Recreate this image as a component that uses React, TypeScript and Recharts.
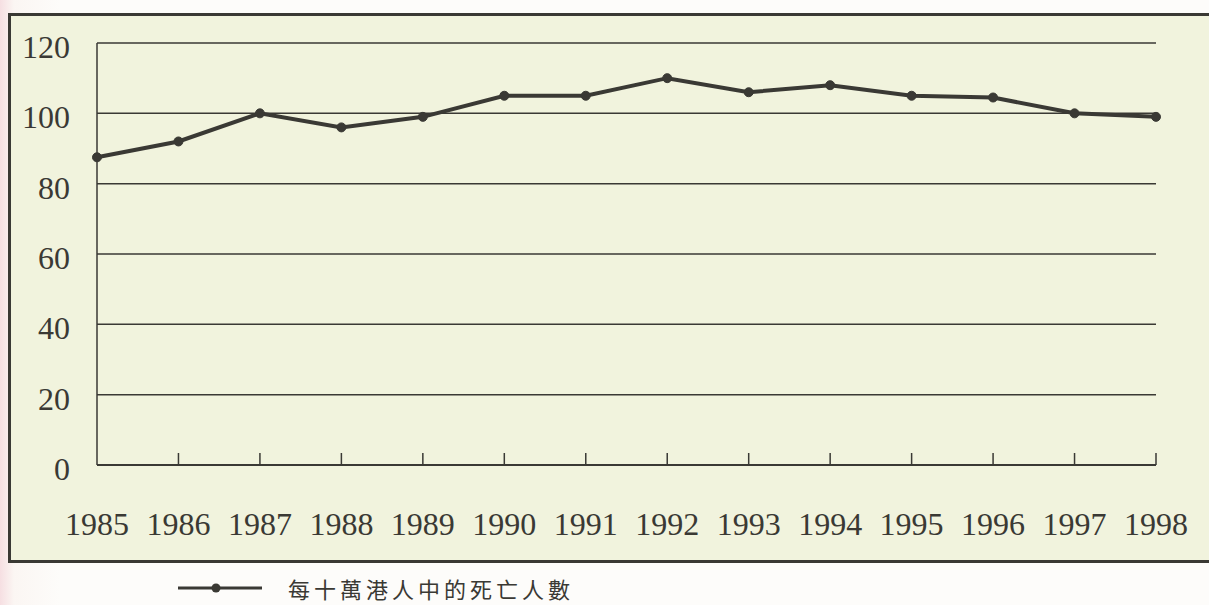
import { LineChart, Line, XAxis, YAxis, CartesianGrid, Legend } from 'recharts';

const years = ['1985', '1986', '1987', '1988', '1989', '1990', '1991', '1992', '1993', '1994', '1995', '1996', '1997', '1998'];
const deaths = [87.5, 92, 100, 96, 99, 105, 105, 110, 106, 108, 105, 104.5, 100, 99];
const yTicks = [0, 20, 40, 60, 80, 100, 120];
const seriesName = '每十萬港人中的死亡人數';

const data = years.map((year, i) => ({ year, value: deaths[i] }));

const INK = '#3a3934';
const SERIF = '"Liberation Serif", "DejaVu Serif", serif';

function XTick(props: any) {
  const { x, y, payload, index } = props;
  return (
    <g>
      {index > 0 && <line x1={x} y1={y} x2={x} y2={y - 12} stroke={INK} strokeWidth={1.5} />}
      <text x={x} y={y + 70} textAnchor="middle" fontFamily={SERIF} fontSize={32} fill={INK}>
        {payload.value}
      </text>
    </g>
  );
}

function YTick(props: any) {
  const { x, y, payload } = props;
  return (
    <text x={x} y={y + 15} textAnchor="end" fontFamily={SERIF} fontSize={32} fill={INK}>
      {payload.value}
    </text>
  );
}

function LegendContent() {
  return (
    <div style={{ display: 'flex', alignItems: 'center', height: 28 }}>
      <svg width={90} height={16}>
        <line x1={2} y1={8} x2={86} y2={8} stroke={INK} strokeWidth={3} />
        <circle cx={40} cy={8} r={4.5} fill={INK} />
      </svg>
      <span
        style={{
          marginLeft: 22,
          fontFamily: '"Noto Sans CJK TC", sans-serif',
          fontSize: 22,
          lineHeight: '28px',
          letterSpacing: 4,
          color: INK,
        }}
      >
        {seriesName}
      </span>
    </div>
  );
}

export default function App() {
  return (
    <div
      style={{
        position: 'absolute',
        left: 0,
        top: 0,
        width: 1209,
        height: 605,
        overflow: 'hidden',
        background: 'linear-gradient(90deg, #f6dfe2 0px, #fbf6f3 14px, #fdfcfa 60px)',
      }}
    >
      <div
        style={{
          position: 'absolute',
          left: 8,
          top: 13,
          width: 1220,
          height: 544,
          background: '#f1f3dd',
          borderTop: `3px solid ${INK}`,
          borderLeft: `3px solid ${INK}`,
          borderBottom: `3px solid ${INK}`,
        }}
      />
      <div style={{ position: 'absolute', left: 0, top: 0 }}>
        <LineChart
          width={1209}
          height={605}
          data={data}
          margin={{ top: 43, right: 53, left: 37, bottom: 52 }}
        >
          <CartesianGrid vertical={false} stroke={INK} strokeWidth={1.5} />
          <XAxis
            dataKey="year"
            scale="point"
            height={60}
            tickSize={0}
            tickMargin={0}
            tickLine={false}
            axisLine={{ stroke: INK, strokeWidth: 2 }}
            tick={<XTick />}
            interval={0}
          />
          <YAxis
            domain={[0, 120]}
            ticks={yTicks}
            width={60}
            tickSize={0}
            tickMargin={27}
            tickLine={false}
            axisLine={{ stroke: INK, strokeWidth: 1.5 }}
            tick={<YTick />}
            interval={0}
          />
          <Legend
            verticalAlign="bottom"
            align="left"
            wrapperStyle={{ left: 176, top: 574, width: 600, bottom: 'auto' }}
            content={<LegendContent />}
          />
          <Line
            type="linear"
            dataKey="value"
            name={seriesName}
            stroke={INK}
            strokeWidth={4}
            dot={{ r: 4.5, fill: INK, stroke: INK, strokeWidth: 1 }}
            activeDot={false}
            isAnimationActive={false}
          />
        </LineChart>
      </div>
    </div>
  );
}
